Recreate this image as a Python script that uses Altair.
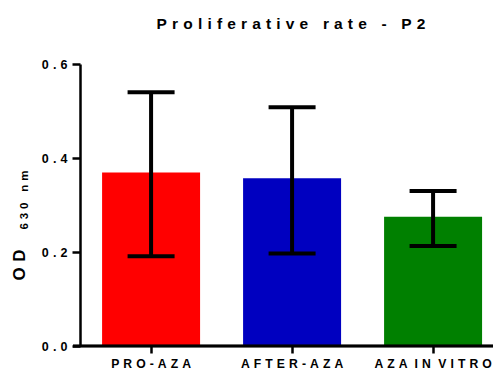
import altair as alt
import pandas as pd

# ---- data ----
categories = ["PRO-AZA", "AFTER-AZA", "AZA IN VITRO"]
means = [0.369, 0.357, 0.275]
err_low = [0.191, 0.197, 0.213]
err_high = [0.540, 0.508, 0.330]
bar_colors = ["#FF0000", "#0000C0", "#008000"]
y_ticks = [0.0, 0.2, 0.4, 0.6]
title_text = "Proliferative rate - P2"
y_title_main = "OD"
y_title_sub = "630 nm"

SP = "\u2004"  # three-per-em space used to imitate the letter spacing


def spaced(s):
    return SP.join(s)


df = pd.DataFrame({"group": categories, "mean": means, "lo": err_low, "hi": err_high})

FONT = "Liberation Sans"
label_expr = (
    "replace(replace(datum.label, /(\\S)(?=\\S)/g, '$1" + SP + "'), / /g, ' " + SP + "')"
)

W, H = 412, 282

x_enc = alt.X(
    "group:N",
    sort=categories,
    title=None,
    scale=alt.Scale(paddingInner=0.305, paddingOuter=0.1135, align=0.69),
    axis=alt.Axis(
        labelAngle=0,
        labelExpr=label_expr,
        labelFont=FONT,
        labelFontSize=12.2,
        labelFontWeight="bold",
        labelColor="black",
        labelPadding=4,
        domain=False,
        tickColor="black",
        tickWidth=2.5,
        tickSize=7,
    ),
)

y_scale = alt.Scale(domain=[0, 0.6], nice=False, zero=True)

y_axis = alt.Axis(
    values=y_ticks,
    format=".1f",
    labelExpr=label_expr,
    labelFont=FONT,
    labelFontSize=12.5,
    labelFontWeight="bold",
    labelColor="black",
    labelPadding=5,
    domainColor="black",
    domainWidth=2.5,
    tickColor="black",
    tickWidth=2.5,
    tickSize=8,
    grid=False,
    title=None,
)

bars = alt.Chart(df).mark_bar().encode(
    x=x_enc,
    y=alt.Y("mean:Q", scale=y_scale, axis=y_axis),
    color=alt.Color("group:N", scale=alt.Scale(domain=categories, range=bar_colors), legend=None),
)

# x-axis baseline, extending slightly left of the y axis as in the reference
x_line = alt.Chart(df).mark_rule(color="black", strokeWidth=2.5).encode(
    x=alt.value(-7), x2=alt.value(W + 1), y=alt.value(H)
)

stems = alt.Chart(df).mark_rule(color="black", strokeWidth=4).encode(
    x=alt.X("group:N", sort=categories),
    y=alt.Y("lo:Q", scale=y_scale),
    y2="hi:Q",
)

cap_hi = alt.Chart(df).mark_tick(color="black", thickness=4, size=47, opacity=1).encode(
    x=alt.X("group:N", sort=categories),
    y=alt.Y("hi:Q", scale=y_scale),
)

cap_lo = alt.Chart(df).mark_tick(color="black", thickness=4, size=47, opacity=1).encode(
    x=alt.X("group:N", sort=categories),
    y=alt.Y("lo:Q", scale=y_scale),
)

# y-axis title: "OD" with a subscript "630 nm"
ytitle_main = alt.Chart(pd.DataFrame({"t": [spaced(y_title_main)]})).mark_text(
    font=FONT,
    fontSize=17,
    fontWeight="bold",
    color="black",
    angle=270,
    align="center",
    baseline="alphabetic",
).encode(text="t:N", x=alt.value(-55), y=alt.value(201))

ytitle_sub = alt.Chart(pd.DataFrame({"t": [spaced(y_title_sub)]})).mark_text(
    font=FONT,
    fontSize=11.5,
    fontWeight="bold",
    color="black",
    angle=270,
    align="center",
    baseline="alphabetic",
).encode(text="t:N", x=alt.value(-52), y=alt.value(136))

chart = (
    alt.layer(bars, x_line, stems, cap_hi, cap_lo, ytitle_main, ytitle_sub)
    .properties(
        width=W,
        height=H,
        autosize=alt.AutoSizeParams(type="none"),
        padding={"left": 72, "top": 56, "right": 1, "bottom": 25},
        title=alt.TitleParams(
            spaced(title_text),
            font=FONT,
            fontSize=15.5,
            fontWeight="bold",
            color="black",
            anchor="middle",
            offset=26,
            dx=5,
        ),
    )
    .configure_view(stroke=None)
    .configure_axis(grid=False)
)

chart.save("out.html", embed_options={"renderer": "svg", "actions": False})
